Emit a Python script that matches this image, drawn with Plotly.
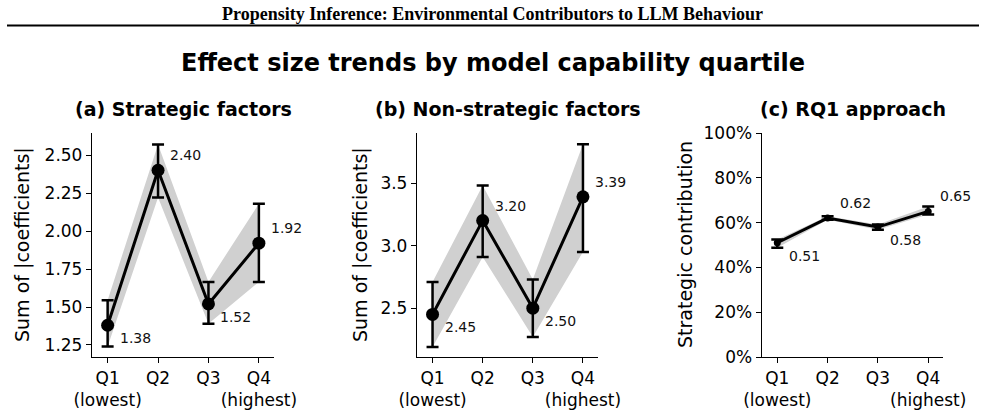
import plotly.graph_objects as go

# ---- data ----
quartiles = ["Q1", "Q2", "Q3", "Q4"]
tick_labels = ["Q1<br>(lowest)", "Q2", "Q3", "Q4<br>(highest)"]

strategic = [1.38, 2.40, 1.52, 1.92]
strategic_lo = [1.24, 2.22, 1.39, 1.665]
strategic_hi = [1.545, 2.57, 1.665, 2.18]

nonstrategic = [2.45, 3.20, 2.50, 3.39]
nonstrategic_lo = [2.19, 2.91, 2.27, 2.95]
nonstrategic_hi = [2.71, 3.48, 2.73, 3.81]

rq1 = [0.51, 0.62, 0.58, 0.65]
rq1_lo = [0.488, 0.613, 0.568, 0.636]
rq1_hi = [0.525, 0.628, 0.592, 0.672]

labels_a = ["1.38", "2.40", "1.52", "1.92"]
labels_b = ["2.45", "3.20", "2.50", "3.39"]
labels_c = ["0.51", "0.62", "0.58", "0.65"]

# ---- layout constants ----
W, H = 985, 415
FONT = "DejaVu Sans"
label_dy = [-13, 15, -13, 15]

panels = [
    dict(vals=strategic, lo=strategic_lo, hi=strategic_hi, labels=labels_a,
         xdom=(92, 274), yr=[1.171, 2.645], tv=[1.25, 1.5, 1.75, 2.0, 2.25, 2.5],
         fmt=".2f", title="(a) Strategic factors", ytitle="Sum of |coefficients|",
         ytx=22, msize=13),
    dict(vals=nonstrategic, lo=nonstrategic_lo, hi=nonstrategic_hi, labels=labels_b,
         xdom=(417, 598), yr=[2.11, 3.90], tv=[2.5, 3.0, 3.5],
         fmt=".1f", title="(b) Non-strategic factors", ytitle="Sum of |coefficients|",
         ytx=360, msize=13),
    dict(vals=rq1, lo=rq1_lo, hi=rq1_hi, labels=labels_c,
         xdom=(761.7, 943.3), yr=[0, 1.0], tv=[0, 0.2, 0.4, 0.6, 0.8, 1.0],
         fmt=".0%", title="(c) RQ1 approach", ytitle="Strategic contribution",
         ytx=685, msize=7),
]

ytop, ybot = 133, 357
ydom = (1 - ybot / H, 1 - ytop / H)

fig = go.Figure()
annotations = []
layout = {}
xs = list(range(len(quartiles)))

for i, p in enumerate(panels):
    n = "" if i == 0 else str(i + 1)
    xa, ya = "x" + n, "y" + n
    # band
    fig.add_trace(go.Scatter(
        x=xs + xs[::-1], y=p["hi"] + p["lo"][::-1], fill="toself",
        fillcolor="rgb(208,208,208)", line=dict(width=0), mode="lines",
        hoverinfo="skip", showlegend=False, xaxis=xa, yaxis=ya))
    # line + markers + error bars
    fig.add_trace(go.Scatter(
        x=xs, y=p["vals"], mode="lines+markers",
        line=dict(color="black", width=3),
        marker=dict(color="black", size=p["msize"]),
        error_y=dict(type="data", symmetric=False,
                     array=[h - v for h, v in zip(p["hi"], p["vals"])],
                     arrayminus=[v - l for v, l in zip(p["vals"], p["lo"])],
                     color="black", thickness=2.5, width=6),
        showlegend=False, xaxis=xa, yaxis=ya))
    for j, (v, t) in enumerate(zip(p["vals"], p["labels"])):
        annotations.append(dict(x=xs[j], y=v, xref=xa, yref=ya, text=t,
                                showarrow=False, xanchor="left", yanchor="middle",
                                xshift=10, yshift=label_dy[j],
                                font=dict(family=FONT, size=14, color="#111")))
    layout["xaxis" + n] = dict(
        domain=[p["xdom"][0] / W, p["xdom"][1] / W], anchor=ya,
        range=[-0.31, 3.3], tickvals=xs, ticktext=tick_labels, tickangle=0,
        automargin=False,
        showline=True, linecolor="black", linewidth=1.3, ticks="outside",
        ticklen=5, tickwidth=1.3, tickcolor="black", showgrid=False, zeroline=False,
        tickfont=dict(family=FONT, size=17, color="black"), fixedrange=True)
    layout["yaxis" + n] = dict(
        domain=list(ydom), anchor=xa, range=p["yr"], tickvals=p["tv"],
        tickformat=p["fmt"], automargin=False,
        showline=True, linecolor="black", linewidth=1.3,
        ticks="outside", ticklen=5, tickwidth=1.3, tickcolor="black",
        showgrid=False, zeroline=False,
        tickfont=dict(family=FONT, size=17, color="black"), fixedrange=True)
    # subplot title
    annotations.append(dict(x=(p["xdom"][0] + p["xdom"][1]) / 2 / W, y=1 - 109 / H,
                            xref="paper", yref="paper", text="<b>" + p["title"] + "</b>",
                            showarrow=False, xanchor="center", yanchor="middle",
                            font=dict(family=FONT, size=19, color="black")))
    # y-axis title
    annotations.append(dict(x=p["ytx"] / W, y=sum(ydom) / 2,
                            xref="paper", yref="paper", text=p["ytitle"],
                            textangle=-90, showarrow=False, xanchor="center",
                            yanchor="middle",
                            font=dict(family=FONT, size=19, color="black")))

# header and main title
annotations.append(dict(x=0.5, y=1 - 14 / H, xref="paper", yref="paper",
                        text="<b>Propensity Inference: Environmental Contributors to LLM Behaviour</b>",
                        showarrow=False, xanchor="center", yanchor="middle",
                        font=dict(family="Liberation Serif", size=18, color="black")))
annotations.append(dict(x=0.5, y=1 - 63 / H, xref="paper", yref="paper",
                        text="<b>Effect size trends by model capability quartile</b>",
                        showarrow=False, xanchor="center", yanchor="middle",
                        font=dict(family=FONT, size=24, color="black")))

fig.update_layout(
    width=W, height=H, margin=dict(l=0, r=0, t=0, b=0),
    paper_bgcolor="white", plot_bgcolor="white",
    annotations=annotations,
    shapes=[dict(type="line", xref="paper", yref="paper",
                 x0=7 / W, x1=979 / W, y0=1 - 25.5 / H, y1=1 - 25.5 / H,
                 line=dict(color="black", width=2))],
    **layout)

fig.write_html("out.html")
